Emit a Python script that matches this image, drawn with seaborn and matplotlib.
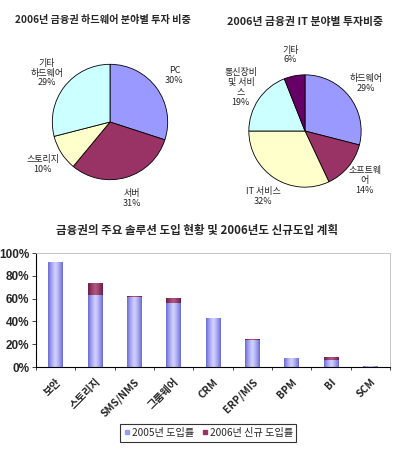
import numpy as np
import pandas as pd
import matplotlib
matplotlib.use('Agg')
import matplotlib.pyplot as plt
import seaborn as sns
from matplotlib.lines import Line2D
from matplotlib.colors import LinearSegmentedColormap

# pie 1: hardware investment share
hw_labels = ['PC', '서버', '스토리지', '기타\n하드웨어']
hw_values = [30, 31, 10, 29]
hw_colors = ['#9999FF', '#993366', '#FFFFCC', '#CCFFFF']

# pie 2: IT investment share
it_labels = ['하드웨어', '소프트웨\n어', 'IT 서비스', '통신장비\n및 서비\n스', '기타']
it_values = [29, 14, 32, 19, 6]
it_colors = ['#9999FF', '#993366', '#FFFFCC', '#CCFFFF', '#660066']

# bar chart: solution adoption
solutions = ['보안', '스토리지', 'SMS/NMS', '그룹웨어', 'CRM', 'ERP/MIS', 'BPM', 'BI', 'SCM']
adopt_2005 = [92, 63, 61, 56, 43, 24, 8, 6, 1]
new_2006 = [0, 10.5, 1.5, 4.5, 0, 1, 0, 3, 0]

sns.set_style('white')
plt.rcParams['font.family'] = ['Noto Sans CJK KR', 'DejaVu Sans']

W, H = 397, 454
fig = plt.figure(figsize=(W / 100, H / 100), dpi=100)


def px_axes(cx, cy, size):
    return fig.add_axes([(cx - size / 2) / W, 1 - (cy + size / 2) / H, size / W, size / H])


def draw_pie(ax, values, labels, colors):
    texts = ax.pie(values, labels=[f'{l}\n{v}%' for l, v in zip(labels, values)],
                   colors=colors, startangle=90, counterclock=False,
                   labeldistance=1.38, wedgeprops=dict(edgecolor='black', linewidth=0.6),
                   textprops=dict(fontsize=6.5, linespacing=1.1))[1]
    for t in texts:
        t.set_ha('center')
        t.set_va('center')
    ax.set_xlim(-1.3, 1.3)
    ax.set_ylim(-1.3, 1.3)
    ax.set_aspect('equal')
    ax.axis('off')


ax1 = px_axes(110, 122, 150)
draw_pie(ax1, hw_values, hw_labels, hw_colors)
fig.text(103 / W, 1 - 20 / H, '2006년 금융권 하드웨어 분야별 투자 비중', ha='center', va='center',
         fontsize=7.3, fontweight='bold')

ax2 = px_axes(305, 131, 146)
draw_pie(ax2, it_values, it_labels, it_colors)
fig.text(305 / W, 1 - 22 / H, '2006년 금융권 IT 분야별 투자비중', ha='center', va='center',
         fontsize=7.8, fontweight='bold')

# bar chart
ax3 = fig.add_axes([36 / W, 1 - 367 / H, 354 / W, 114 / H])
df = pd.DataFrame({'solution': solutions,
                   'total': np.array(adopt_2005) + np.array(new_2006),
                   'y2005': adopt_2005})
sns.barplot(data=df, x='solution', y='total', color='#993366', width=0.38,
            saturation=1, ax=ax3, edgecolor='none')
sns.barplot(data=df, x='solution', y='y2005', color='#9999FF', width=0.38,
            saturation=1, ax=ax3, edgecolor='none')

# cylinder-like shading
n = len(solutions)
grad = np.abs(np.linspace(-1, 1, 64)) ** 1.3
grad = np.tile(grad, (2, 1))
blue_cmap = LinearSegmentedColormap.from_list('b', ['#CFCFFF', '#6A6AD8'])
red_cmap = LinearSegmentedColormap.from_list('m', ['#B0557F', '#6A1C44'])
for i, patch in enumerate(ax3.patches):
    x0, y0 = patch.get_x(), patch.get_y()
    w, h = patch.get_width(), patch.get_height()
    if h <= 0:
        continue
    cmap = red_cmap if i < n else blue_cmap
    im = ax3.imshow(grad, extent=[x0, x0 + w, y0, y0 + h], cmap=cmap, aspect='auto',
                    zorder=patch.get_zorder() + 0.1, vmin=0, vmax=1)
    im.set_clip_path(patch)

ax3.set_xlim(-0.5, n - 0.5)
ax3.set_ylim(0, 100)
ax3.set_yticks(range(0, 101, 20))
ax3.set_yticklabels([f'{v}%' for v in range(0, 101, 20)], fontsize=8.5, fontweight='bold',
                    family=['Liberation Sans', 'DejaVu Sans'])
ax3.set_xticks(range(n))
ax3.set_xticklabels(solutions, rotation=45, ha='right', rotation_mode='anchor',
                    fontsize=7.5, fontweight='bold')
ax3.set_xticks(np.arange(-0.5, n, 1), minor=True)
ax3.tick_params(axis='x', which='major', length=0, pad=7)
ax3.tick_params(axis='x', which='minor', length=2, width=0.6, direction='out', bottom=True)
ax3.tick_params(axis='y', length=3, width=0.6, direction='out', left=True, pad=2)
ax3.set_xlabel('')
ax3.set_ylabel('')
for side in ['left', 'bottom']:
    ax3.spines[side].set_color('black')
    ax3.spines[side].set_linewidth(0.8)
for side in ['top', 'right']:
    ax3.spines[side].set_color('#BBBBBB')
    ax3.spines[side].set_linewidth(0.6)

fig.text(197 / W, 1 - 231 / H, '금융권의 주요 솔루션 도입 현황 및 2006년도 신규도입 계획', ha='center',
         va='center', fontsize=8.3, fontweight='bold')

handles = [Line2D([], [], marker='s', linestyle='', markersize=3.5, color='#9999FF'),
           Line2D([], [], marker='s', linestyle='', markersize=3.5, color='#993366')]
leg = fig.legend(handles, ['2005년 도입률', '2006년 신규 도입률'], loc='center',
                 bbox_to_anchor=(208 / W, 1 - 433 / H), ncol=2, fontsize=7.3,
                 frameon=True, fancybox=False, handletextpad=0.1, columnspacing=0.6,
                 borderpad=0.35, handlelength=0.8)
leg.get_frame().set_edgecolor('black')
leg.get_frame().set_linewidth(0.8)

fig.savefig('out.png', dpi=100)
